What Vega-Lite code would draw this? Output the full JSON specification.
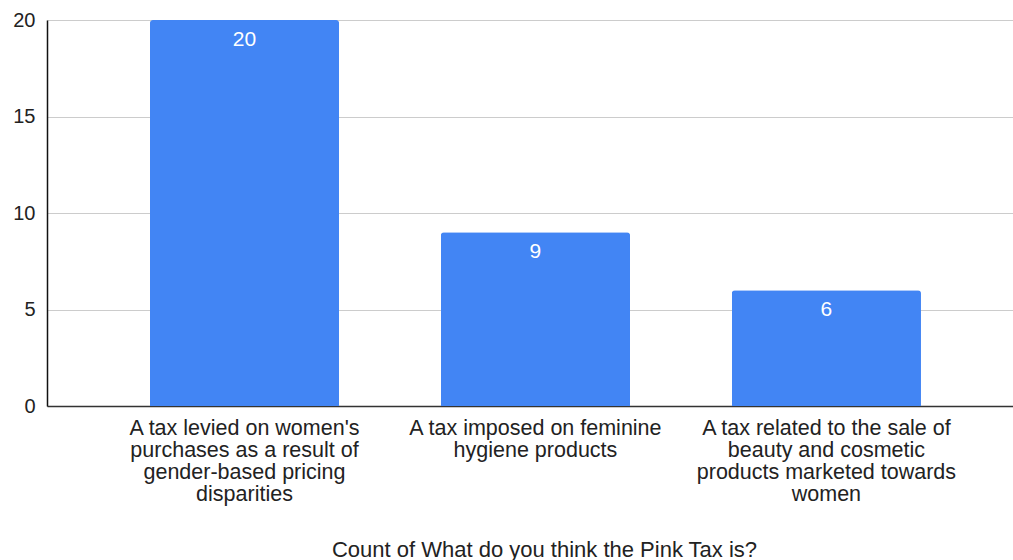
{
  "$schema": "https://vega.github.io/schema/vega-lite/v6.json",
  "autosize": "none",
  "padding": {"left": 47, "top": 20, "right": 0, "bottom": 154},
  "width": 966,
  "height": 386,
  "background": "white",
  "config": {
    "view": {"stroke": null},
    "font": "Liberation Sans"
  },
  "data": {
    "values": [
      {"answer": "A tax levied on women's purchases as a result of gender-based pricing disparities", "count": 20},
      {"answer": "A tax imposed on feminine hygiene products", "count": 9},
      {"answer": "A tax related to the sale of beauty and cosmetic products marketed towards women", "count": 6}
    ]
  },
  "encoding": {
    "x": {
      "field": "answer",
      "type": "nominal",
      "sort": null,
      "scale": {"paddingInner": 0.35, "paddingOuter": 0.335, "align": 0.528},
      "axis": {
        "title": "Count of What do you think the Pink Tax is?",
        "titleFont": "Liberation Sans",
        "titleFontSize": 22,
        "titleFontWeight": "normal",
        "titleColor": "#222222",
        "titleX": 497,
        "titleY": 150,
        "titleBaseline": "alphabetic",
        "titleAlign": "center",
        "labelAngle": 0,
        "labelFont": "Liberation Sans",
        "labelFontSize": 21.5,
        "labelColor": "#222222",
        "labelLineHeight": 22,
        "labelPadding": 11,
        "labelBaseline": "top",
        "labelLimit": 400,
        "ticks": false,
        "domainColor": "#333333",
        "domainWidth": 1.5,
        "grid": false,
        "labelExpr": "datum.value == \"A tax imposed on feminine hygiene products\" ? ['A tax imposed on feminine', 'hygiene products'] : (datum.value == \"A tax related to the sale of beauty and cosmetic products marketed towards women\" ? ['A tax related to the sale of', 'beauty and cosmetic', 'products marketed towards', 'women'] : [\"A tax levied on women's\", 'purchases as a result of', 'gender-based pricing', 'disparities'])"
      }
    },
    "y": {
      "field": "count",
      "type": "quantitative",
      "scale": {"domain": [0, 20]},
      "axis": {
        "title": null,
        "values": [0, 5, 10, 15, 20],
        "labelFont": "Liberation Sans",
        "labelFontSize": 20,
        "labelColor": "#222222",
        "labelPadding": 12,
        "ticks": false,
        "domainColor": "#111111",
        "domainWidth": 1.5,
        "gridColor": "#cccccc",
        "gridWidth": 1
      }
    }
  },
  "layer": [
    {
      "mark": {"type": "bar", "color": "#4285F4", "cornerRadiusTopLeft": 3, "cornerRadiusTopRight": 3}
    },
    {
      "mark": {"type": "text", "color": "white", "font": "Liberation Sans", "fontSize": 21, "baseline": "middle", "dy": 20},
      "encoding": {"text": {"field": "count", "type": "quantitative"}}
    }
  ]
}
